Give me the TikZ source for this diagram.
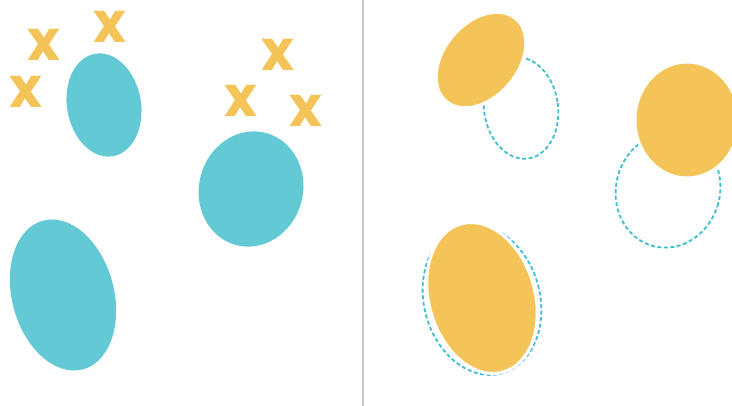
\documentclass[tikz,border=0pt]{standalone}
\usepackage{fontspec}
\newfontfamily\markfont{Poppins}
\usetikzlibrary{positioning}
\definecolor{clusterteal}{HTML}{63C9D4}
\definecolor{dashteal}{HTML}{3EBFD0}
\definecolor{centroidgold}{HTML}{F4C458}
\definecolor{divgray}{HTML}{C8C8C8}

\begin{document}
\begin{tikzpicture}[
    x=1pt, y=-1pt,
    cluster/.style={fill=clusterteal},
    centroid/.style={fill=centroidgold, draw=white, line width=3pt},
    oldcluster/.style={draw=dashteal, dash pattern=on 4pt off 2.5pt, line width=1.8pt},
    xmark/.style={text=centroidgold, inner sep=0pt, font=\markfont\bfseries\fontsize{56}{56}\selectfont}
]
\useasboundingbox (0,0) rectangle (732,406);

% left half: points and guesses
\fill[cluster] (104,105) ellipse [x radius=37, y radius=52, rotate=10];
\fill[cluster] (251,189) ellipse [x radius=52, y radius=58, rotate=-15];
\fill[cluster] (63,295) ellipse [x radius=51, y radius=77, rotate=15];

\node[xmark] (xa) at (44,45) {x};
\node[xmark] (xb) at (110,27) {x};
\node[xmark] (xc) at (26,92) {x};
\node[xmark] (xd) at (278,55) {x};
\node[xmark] (xe) at (241,101) {x};
\node[xmark] (xf) at (306,111) {x};

% divider
\draw[divgray, line width=2pt] (363,0) -- (363,406);

% right half: clusters moved
\draw[oldcluster] (521,108) ellipse [x radius=37, y radius=51, rotate=8];
\draw[oldcluster] (668,190) ellipse [x radius=52, y radius=58, rotate=-15];
\draw[oldcluster] (482,300) ellipse [x radius=58, y radius=76, rotate=15];

\filldraw[centroid] (481,60) ellipse [x radius=54, y radius=37, rotate=50];
\filldraw[centroid] (687,120) ellipse [x radius=52, y radius=58];
\filldraw[centroid] (482,298) ellipse [x radius=53, y radius=77, rotate=16];
\end{tikzpicture}
\end{document}
